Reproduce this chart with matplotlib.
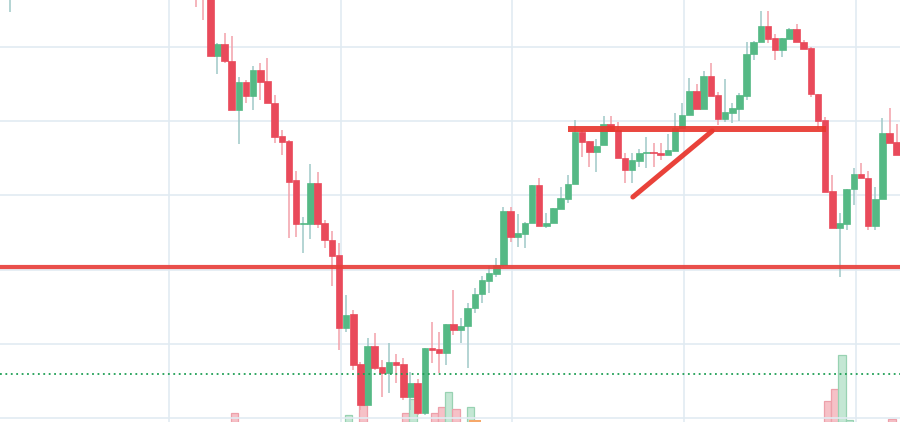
import numpy as np
import matplotlib
matplotlib.use("Agg")
import matplotlib.pyplot as plt

# ---- data ----
t = [-26] + list(range(0, 99))
open_ = [157.2,
 160.4, 158.35, 157.0, 148.78, 150.40, 148.11, 141.51, 145.28, 143.39, 146.90,
 145.41, 142.45, 138.00, 137.33, 132.07, 126.14, 126.14, 131.67, 126.28, 123.99,
 121.96, 112.13, 114.00, 107.27, 101.75, 109.70, 106.87, 106.06, 107.54, 107.27,
 102.83, 104.71, 100.67, 109.43, 109.30, 108.76, 112.66, 111.86, 112.40, 114.82,
 116.71, 118.46, 119.40, 120.62, 127.89, 124.39, 124.79, 126.28, 131.40, 125.87,
 126.28, 128.16, 129.51, 131.53, 138.54, 137.33, 135.85, 136.79, 139.62, 138.81,
 135.04, 133.42, 134.63, 135.71, 135.85, 135.71, 135.44, 135.98, 139.08, 140.83,
 144.07, 141.64, 146.09, 143.53, 140.29, 141.10, 141.64, 143.39, 149.05, 150.67,
 152.83, 151.21, 149.59, 151.07, 152.42, 150.67, 149.86, 143.66, 140.16, 130.59,
 125.60, 126.14, 130.86, 132.88, 132.34, 125.87, 129.51, 138.41, 137.19]
close = [157.6,
 158.35, 157.0, 148.78, 150.40, 148.11, 141.51, 145.28, 143.39, 146.90, 145.28,
 142.45, 137.87, 137.19, 131.80, 126.14, 126.28, 131.67, 126.14, 123.99, 121.83,
 112.13, 113.88, 107.14, 101.75, 109.70, 106.74, 106.06, 107.54, 107.14, 102.83,
 104.71, 100.67, 109.43, 109.16, 108.76, 112.66, 111.86, 112.40, 114.82, 116.71,
 118.59, 119.54, 120.62, 127.89, 124.39, 124.93, 126.28, 131.40, 125.87, 126.28,
 128.30, 129.65, 131.53, 138.54, 137.19, 135.85, 136.65, 139.62, 138.67, 135.04,
 133.42, 134.77, 135.71, 135.85, 135.71, 135.44, 136.12, 139.08, 140.83, 144.07,
 141.64, 146.09, 143.39, 140.29, 141.24, 141.78, 143.53, 149.05, 150.67, 152.83,
 151.07, 149.59, 151.21, 152.42, 150.67, 149.73, 143.66, 140.02, 130.45, 125.60,
 126.28, 130.86, 132.88, 132.34, 125.87, 129.51, 138.41, 137.06, 135.44]
high = [158.0,
 161.7, 159.0, 157.5, 150.54, 151.88, 151.48, 145.95, 145.55, 147.44, 147.84,
 148.51, 143.53, 138.81, 137.46, 133.28, 127.09, 134.23, 133.15, 126.68, 125.20,
 123.58, 116.57, 114.55, 107.54, 110.78, 111.45, 107.81, 110.10, 108.62, 108.08,
 106.20, 105.25, 109.43, 112.93, 111.59, 112.66, 117.25, 113.47, 115.50, 117.52,
 119.13, 120.48, 121.56, 128.43, 128.43, 127.49, 126.41, 131.40, 132.34, 127.62,
 128.30, 131.13, 132.75, 140.16, 138.81, 137.33, 137.60, 140.70, 140.70, 139.89,
 135.71, 135.71, 136.25, 137.87, 137.06, 137.06, 138.27, 141.10, 142.45, 145.82,
 145.01, 146.76, 147.84, 143.93, 145.68, 142.45, 143.80, 150.67, 150.80, 154.85,
 154.85, 151.75, 151.21, 152.56, 153.10, 150.94, 150.00, 143.66, 140.56, 132.75,
 127.62, 130.86, 133.69, 134.36, 133.28, 131.13, 140.43, 141.78, 139.62]
low = [154.7,
 155.39, 153.64, 148.78, 146.36, 147.84, 141.51, 136.92, 142.45, 141.51, 142.85,
 142.45, 137.06, 135.44, 124.26, 124.39, 122.23, 124.12, 125.60, 122.91, 117.79,
 109.16, 111.59, 106.47, 101.07, 101.75, 106.47, 102.83, 103.37, 104.71, 102.42,
 101.07, 100.40, 100.40, 107.41, 106.06, 107.14, 111.18, 110.10, 106.74, 114.15,
 115.50, 116.84, 119.00, 120.40, 123.72, 123.04, 122.91, 126.28, 125.87, 125.60,
 126.28, 128.16, 128.97, 131.53, 135.17, 133.82, 133.15, 136.79, 138.67, 135.04,
 131.67, 131.67, 133.82, 133.69, 133.82, 134.77, 135.44, 135.98, 139.08, 140.83,
 141.64, 141.64, 143.39, 139.48, 139.89, 139.75, 140.02, 142.85, 148.24, 150.67,
 150.54, 148.24, 148.65, 151.07, 150.67, 149.73, 143.26, 138.94, 130.45, 125.60,
 119.00, 125.33, 128.70, 132.34, 125.33, 125.33, 129.51, 137.06, 135.44]

vol_idx = [5, 21, 23, 29, 30, 33, 34, 35, 36, 38, 88, 89, 90, 91, 97]
volume = [9, 7, 17, 9, 23, 9, 15, 30, 13, 15, 21, 33, 67, 2, 3]
extra_idx = [39]
extra_vol = [2]

support_level = 120.35
dotted_level = 105.93
resist_t = [52.0, 88.1]
resist_level = 138.94
trend_t = [61.1, 72.2]
trend_p = [129.78, 138.68]

# ---- styling ----
UP = "#55b985"
DOWN = "#e94a5b"
UP_WICK = "#9fc9c8"
DOWN_WICK = "#f2a1aa"
GRID = "#e1ebf2"

fig = plt.figure(figsize=(9, 4.22), dpi=100)
xlim = (-27.41, 98.46)

axv = fig.add_axes([0, 0, 1, 1])
axv.set_xlim(*xlim)
axv.set_ylim(0, 422)
axv.axis("off")

ax = fig.add_axes([0, 0, 1, 1], sharex=axv)
ax.patch.set_visible(False)
ax.set_xlim(*xlim)
ax.set_ylim(99.46, 156.33)
ax.axis("off")

# grid
for k in range(-1, 6):
    axv.axvline(-3.75 + 24.0 * k, color=GRID, lw=1.2, zorder=0)
for p in np.arange(100, 160, 10):
    ax.axhline(p, color=GRID, lw=1.2, zorder=0)

# volume
vcol = {}
for i, o, c in zip(t, open_, close):
    vcol[i] = c >= o
for i, v in zip(vol_idx, volume):
    up = vcol[i]
    axv.bar(i + 0.35, v, width=1.02,
            color="#c4e7d4" if up else "#f6c1c7",
            edgecolor="#98d2b2" if up else "#eda0aa", lw=0.9, zorder=1)
for i, v in zip(extra_idx, extra_vol):
    axv.bar(i, v, width=1.6, color="#f6a86a", lw=0, zorder=1)

# candles
t_arr = np.array(t, dtype=float)
o = np.array(open_); c = np.array(close); h = np.array(high); l = np.array(low)
up = c >= o
for mask, body, wick in [(up, UP, UP_WICK), (~up, DOWN, DOWN_WICK)]:
    ax.vlines(t_arr[mask], l[mask], h[mask], color=wick, lw=1.1, zorder=2)
    bottoms = np.minimum(o, c)[mask]
    heights = np.maximum(np.abs(c - o)[mask], 0.18)
    ax.bar(t_arr[mask], heights, bottom=bottoms, width=0.92,
           color=body, edgecolor=body, lw=0.5, zorder=3)

# drawings
ax.axhline(support_level, color="#e8403c", lw=3.0, alpha=0.92, zorder=4)
ax.axhline(dotted_level, color="#1f9f55", lw=1.3, ls=(0, (1, 2.0)), zorder=4)
ax.plot(resist_t, [resist_level, resist_level], color="#e8382f", lw=4.3,
        alpha=0.92, solid_capstyle="butt", zorder=4)
ax.plot(trend_t, trend_p, color="#e8382f", lw=3.6, alpha=0.95,
        solid_capstyle="round", zorder=4)

fig.savefig("out.png", dpi=100)
